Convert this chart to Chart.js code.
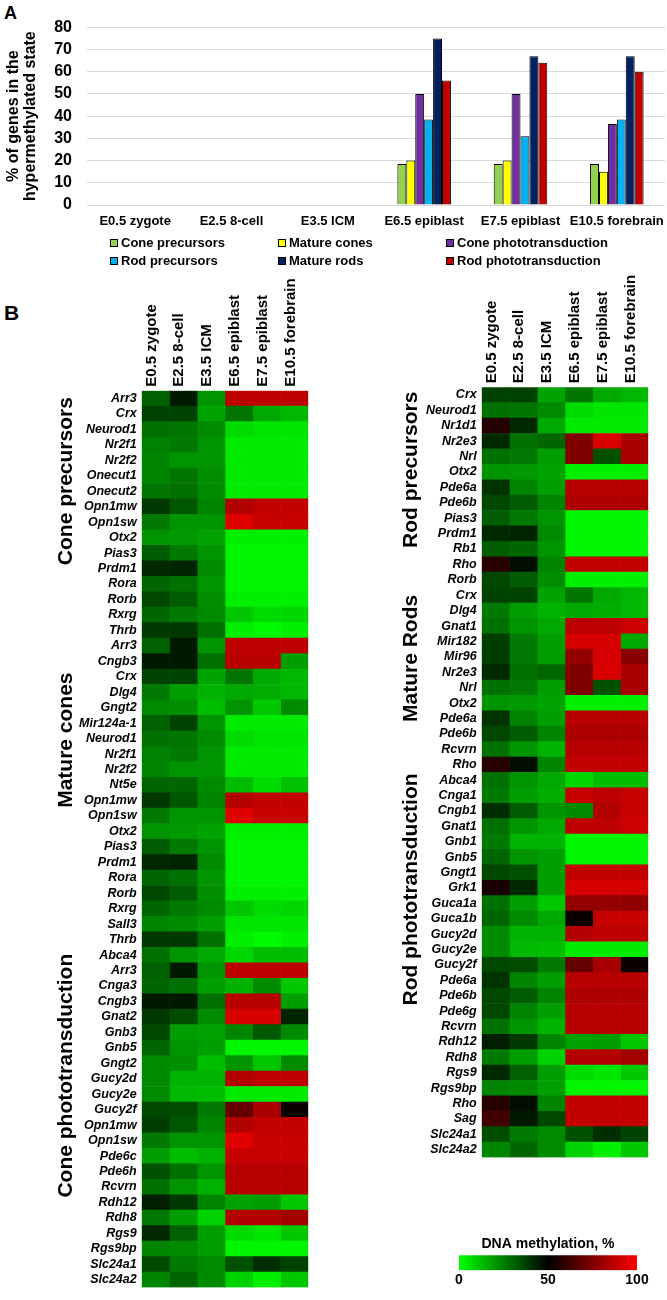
<!DOCTYPE html>
<html>
<head>
<meta charset="utf-8">
<script src="https://cdn.jsdelivr.net/npm/chart.js@4.4.1/dist/chart.umd.min.js"></script>
<style>
  html, body { margin:0; padding:0; background:#fff; }
  body { width:667px; height:1300px; position:relative; overflow:hidden; font-family:"Liberation Sans", Arial, sans-serif; color:#000; }
  .box { position:absolute; }
  .panel { position:absolute; font-weight:bold; }
  .leg-item { position:absolute; font-size:13px; font-weight:bold; line-height:16px; white-space:nowrap; }
  .leg-sw { display:inline-block; width:6px; height:6px; border:1px solid #000; margin-right:3px; vertical-align:0px; }
</style>
</head>
<body>
<div class="panel" style="left:4px; top:3px; font-size:18px;">A</div>
<div class="box" style="left:0; top:0; width:667px; height:240px;"><canvas id="barChart"></canvas></div>
<div id="legend"></div>
<div class="panel" style="left:4px; top:301px; font-size:21px;">B</div>
<div class="box" style="left:0; top:270px; width:330px; height:1030px;"><canvas id="heatLeft"></canvas></div>
<div class="box" style="left:337px; top:270px; width:330px; height:900px;"><canvas id="heatRight"></canvas></div>
<div class="box" style="left:440px; top:1230px; width:227px; height:70px;"><canvas id="colorbar"></canvas></div>
<script>
// ---------- DATA ----------
const stages = ['E0.5 zygote','E2.5 8-cell','E3.5 ICM','E6.5 epiblast','E7.5 epiblast','E10.5 forebrain'];

// Panel A: % of genes in the hypermethylated state
const seriesNames = ['Cone precursors','Mature cones','Cone phototransduction','Rod precursors','Mature rods','Rod phototransduction'];
const conePrecursorsPct = [0,0,0,18.5,18.5,18.5];
const matureConesPct    = [0,0,0,20,20,15];
const conePhotoPct      = [0,0,0,50,50,36.5];
const rodPrecursorsPct  = [0,0,0,38.5,31,38.5];
const matureRodsPct     = [0,0,0,75,67,67];
const rodPhotoPct       = [0,0,0,56,64,60];
const yTicks = [0,10,20,30,40,50,60,70,80];

// Panel B: DNA methylation, % (columns follow `stages`)
const conePrecursorGenes = ['Arr3','Crx','Neurod1','Nr2f1','Nr2f2','Onecut1','Onecut2','Opn1mw','Opn1sw','Otx2','Pias3','Prdm1','Rora','Rorb','Rxrg','Thrb'];
const conePrecursorMeth = [
 [31,45,21,87,87,87],[37,37,18,27,17,14],[28,27,23,7,5,5],[25,26,21,4,4,4],
 [24,21,21,4,4,4],[24,27,22,4,4,4],[27,28,23,4,4,4],[39,33,24,85,88,88],
 [26,21,21,94,89,89],[21,20,18,3,3,3],[32,26,21,2,2,2],[42,43,23,2,2,2],
 [30,28,21,2,2,2],[36,32,22,3,3,3],[30,26,23,11,7,8],[39,39,28,3,1,3]
];
const matureConeGenes = ['Arr3','Cngb3','Crx','Dlg4','Gngt2','Mir124a-1','Neurod1','Nr2f1','Nr2f2','Nt5e','Opn1mw','Opn1sw','Otx2','Pias3','Prdm1','Rora','Rorb','Rxrg','Sall3','Thrb'];
const matureConeMeth = [
 [31,45,21,87,87,87],[45,45,28,86,86,19],[37,37,18,27,17,14],[26,19,15,17,16,14],
 [23,22,13,21,11,23],[31,37,21,4,4,4],[28,27,23,7,5,5],[25,26,21,4,4,4],
 [24,21,21,4,4,4],[30,30,23,13,7,12],[39,33,24,85,88,88],[26,21,21,94,89,89],
 [21,20,18,3,3,3],[32,26,21,2,2,2],[42,43,23,2,2,2],[30,28,21,2,2,2],
 [36,32,22,3,3,3],[30,26,23,11,7,8],[24,23,19,5,5,5],[39,39,28,3,1,3]
];
const conePhotoGenes = ['Abca4','Arr3','Cnga3','Cngb3','Gnat2','Gnb3','Gnb5','Gngt2','Gucy2d','Gucy2e','Gucy2f','Opn1mw','Opn1sw','Pde6c','Pde6h','Rcvrn','Rdh12','Rdh8','Rgs9','Rgs9bp','Slc24a1','Slc24a2'];
const conePhotoMeth = [
 [28,21,17,8,13,13],[31,45,21,87,87,87],[30,28,19,15,23,11],[45,45,28,86,86,19],
 [39,35,23,92,92,43],[36,19,18,24,33,23],[30,21,19,2,2,2],[23,22,13,21,11,23],
 [23,15,15,85,87,87],[23,14,13,4,4,4],[36,35,26,70,83,52],[38,33,24,85,88,88],
 [26,21,21,94,89,89],[19,13,15,89,89,89],[34,28,21,86,86,86],[28,21,15,86,86,86],
 [44,39,24,18,19,11],[26,19,9,85,85,82],[42,31,19,7,5,11],[24,23,19,2,2,2],
 [35,26,23,34,41,37],[24,30,23,9,3,11]
];
const rodPrecursorGenes = ['Crx','Neurod1','Nr1d1','Nr2e3','Nrl','Otx2','Pde6a','Pde6b','Pias3','Prdm1','Rb1','Rho','Rorb'];
const rodPrecursorMeth = [
 [37,37,18,27,17,14],[28,27,23,7,5,5],[57,42,17,4,4,4],[42,28,30,75,93,83],
 [28,26,19,75,34,83],[21,20,18,3,3,3],[40,24,19,86,86,86],[36,32,24,84,84,84],
 [32,26,21,2,2,2],[42,43,23,2,2,2],[32,30,21,2,2,2],[58,47,24,88,88,88],
 [36,32,22,3,3,3]
];
const matureRodGenes = ['Crx','Dlg4','Gnat1','Mir182','Mir96','Nr2e3','Nrl','Otx2','Pde6a','Pde6b','Rcvrn','Rho'];
const matureRodMeth = [
 [37,37,18,27,17,14],[26,19,15,17,16,14],[28,21,17,87,87,90],[38,26,19,92,92,17],
 [38,26,19,79,92,77],[42,28,30,75,93,83],[28,26,19,75,34,83],[21,20,18,3,3,3],
 [40,24,19,86,86,86],[36,32,24,84,84,84],[28,21,15,86,86,86],[58,47,24,88,88,88]
];
const rodPhotoGenes = ['Abca4','Cnga1','Cngb1','Gnat1','Gnb1','Gnb5','Gngt1','Grk1','Guca1a','Guca1b','Gucy2d','Gucy2e','Gucy2f','Pde6a','Pde6b','Pde6g','Rcvrn','Rdh12','Rdh8','Rgs9','Rgs9bp','Rho','Sag','Slc24a1','Slc24a2'];
const rodPhotoMeth = [
 [28,21,17,8,13,13],[26,19,16,89,87,89],[41,32,21,23,85,89],[28,21,17,87,87,90],
 [26,15,15,2,2,2],[30,21,19,2,2,2],[36,34,19,88,88,88],[55,42,19,92,92,92],
 [28,19,11,79,79,78],[30,23,17,52,89,89],[23,15,15,85,87,87],[23,14,13,4,4,4],
 [36,35,26,70,83,52],[40,24,19,86,86,86],[36,32,24,84,84,84],[36,24,19,86,86,86],
 [28,21,15,86,86,86],[44,39,24,18,19,11],[26,19,9,85,85,82],[42,31,19,7,5,11],
 [24,23,19,2,2,2],[58,47,24,88,88,88],[63,45,36,88,88,88],[35,26,23,34,41,37],
 [24,30,23,9,3,11]
];
const colorbarTicks = [0,50,100];

// ---------- STYLE / BUILD ----------
const FONT = '"Liberation Sans", Arial, sans-serif';
Chart.defaults.font.family = FONT;
Chart.defaults.color = '#000';
Chart.defaults.animation = false;

const seriesColors = ['#92D050','#FFFF00','#7030A0','#00B0F0','#002060','#C00000'];
const seriesData = [conePrecursorsPct, matureConesPct, conePhotoPct, rodPrecursorsPct, matureRodsPct, rodPhotoPct];

const barChart = new Chart(document.getElementById('barChart'), {
  type: 'bar',
  data: {
    labels: stages,
    datasets: seriesNames.map((n, i) => ({
      label: n,
      data: seriesData[i],
      backgroundColor: seriesColors[i],
      borderColor: '#000',
      borderWidth: c => (c.raw > 0 ? 1 : 0),
      barPercentage: 1,
      categoryPercentage: 0.556
    }))
  },
  options: {
    responsive: true, maintainAspectRatio: false,
    layout: { padding: { top: 27.3, right: 2, left: 0, bottom: 1.4 } },
    plugins: { legend: { display: false }, tooltip: { enabled: false } },
    scales: {
      x: {
        grid: { display: false, drawTicks: false },
        border: { display: false },
        afterFit: s => { s.paddingRight = 0; s.paddingLeft = 0; },
        ticks: { padding: 9, autoSkip: false, maxRotation: 0, font: { weight: 'bold', size: 13 }, color: '#000' }
      },
      y: {
        min: 0, max: 80,
        afterBuildTicks: s => { s.ticks = yTicks.map(v => ({ value: v })); },
        afterFit: s => { s.width = 87; },
        grid: { color: '#d9d9d9', drawTicks: false },
        border: { display: false },
        ticks: { autoSkip: false, padding: 15, font: { weight: 'bold', size: 16 }, color: '#000' },
        title: {
          display: true,
          text: ['% of genes in the', 'hypermethylated state'],
          font: { weight: 'bold', size: 16, lineHeight: 1.07 },
          color: '#000',
          padding: { top: 5.4, bottom: 0 }
        }
      }
    }
  }
});

// HTML legend built from the chart's datasets (3 columns x 2 rows)
(function buildLegend() {
  const leg = document.getElementById('legend');
  const colX = [110, 278, 446];
  const rowY = [234.7, 253];
  barChart.data.datasets.forEach((ds, i) => {
    const d = document.createElement('div');
    d.className = 'leg-item';
    d.style.left = colX[i % 3] + 'px';
    d.style.top = rowY[Math.floor(i / 3)] + 'px';
    const sw = document.createElement('span');
    sw.className = 'leg-sw';
    sw.style.background = ds.backgroundColor;
    d.appendChild(sw);
    d.appendChild(document.createTextNode(ds.label));
    leg.appendChild(d);
  });
})();

function methColor(v) {
  if (v <= 50) { const g = Math.round(255 * (1 - v / 50)); return `rgb(0,${g},0)`; }
  const r = Math.round(255 * (v - 50) / 50); return `rgb(${r},0,0)`;
}

const groupLabelPlugin = {
  id: 'groupLabels',
  afterDraw(chart, args, opts) {
    if (!opts || !opts.groups) return;
    const { ctx } = chart; const y = chart.scales.y;
    ctx.save();
    ctx.font = `bold ${opts.size}px ${FONT}`;
    ctx.fillStyle = '#000'; ctx.textAlign = 'center'; ctx.textBaseline = 'middle';
    opts.groups.forEach(g => {
      const py = y.getPixelForValue(g.row);
      ctx.save(); ctx.translate(opts.x, py); ctx.rotate(-Math.PI / 2);
      ctx.fillText(g.text, 0, 0); ctx.restore();
    });
    ctx.restore();
  }
};

function heatmap(canvasId, genes, meth, pad, yWidth, xHeight, groupOpts) {
  return new Chart(document.getElementById(canvasId), {
    type: 'bar',
    plugins: [groupLabelPlugin],
    data: {
      labels: genes,
      datasets: stages.map((s, j) => ({
        label: s,
        data: genes.map(() => 1),
        backgroundColor: meth.map(r => methColor(r[j])),
        borderWidth: 0,
        barPercentage: 1,
        categoryPercentage: 1
      }))
    },
    options: {
      indexAxis: 'y',
      responsive: true, maintainAspectRatio: false,
      layout: { padding: pad },
      plugins: { legend: { display: false }, tooltip: { enabled: false }, groupLabels: groupOpts },
      scales: {
        x: {
          type: 'linear', stacked: true, position: 'top', min: 0, max: stages.length,
          grid: { display: false, drawTicks: false }, border: { display: false },
          afterBuildTicks: s => { s.ticks = stages.map((_, i) => ({ value: i + 0.5 })); },
          afterFit: s => { s.height = xHeight; },
          ticks: { autoSkip: false, minRotation: 90, maxRotation: 90, padding: 4, labelOffset: 14,
                   font: { weight: 'bold', size: 15 }, color: '#000',
                   callback: (v, i) => stages[i] }
        },
        y: {
          stacked: true,
          grid: { display: false, drawTicks: false }, border: { display: false },
          afterFit: s => { s.width = yWidth; },
          ticks: { autoSkip: false, padding: 5, font: { weight: 'bold', style: 'italic', size: 12.5 }, color: '#000' }
        }
      }
    }
  });
}

heatmap('heatLeft',
  [...conePrecursorGenes, ...matureConeGenes, ...conePhotoGenes],
  [...conePrecursorMeth, ...matureConeMeth, ...conePhotoMeth],
  { left: 0, right: 21.7, top: 0, bottom: 3.3 }, 141.7, 120.7,
  { x: 66, size: 21, groups: [
    { text: 'Cone precursors', row: 5.35 },
    { text: 'Mature cones', row: 22.1 },
    { text: 'Cone phototransduction', row: 43.8 } ] });

heatmap('heatRight',
  [...rodPrecursorGenes, ...matureRodGenes, ...rodPhotoGenes],
  [...rodPrecursorMeth, ...matureRodMeth, ...rodPhotoMeth],
  { left: 0, right: 18.7, top: 0, bottom: 2.7 }, 144.7, 117.3,
  { x: 74, size: 21, groups: [
    { text: 'Rod precursors', row: 4.85 },
    { text: 'Mature Rods', row: 17.1 },
    { text: 'Rod phototransduction', row: 32.1 } ] });

// Colour scale
new Chart(document.getElementById('colorbar'), {
  type: 'bar',
  data: {
    labels: [''],
    datasets: [{
      data: [[colorbarTicks[0], colorbarTicks[colorbarTicks.length - 1]]],
      borderWidth: 0, barPercentage: 1, categoryPercentage: 1,
      backgroundColor: c => {
        const a = c.chart.chartArea; if (!a) return '#000';
        const g = c.chart.ctx.createLinearGradient(a.left, 0, a.right, 0);
        g.addColorStop(0, methColor(0)); g.addColorStop(0.5, methColor(50)); g.addColorStop(1, methColor(100));
        return g;
      }
    }]
  },
  options: {
    indexAxis: 'y', responsive: true, maintainAspectRatio: false,
    layout: { padding: { left: 19, right: 30, top: 0, bottom: 9 } },
    plugins: {
      legend: { display: false }, tooltip: { enabled: false },
      title: { display: true, text: 'DNA methylation, %', font: { weight: 'bold', size: 14 }, color: '#000', padding: { top: 6, bottom: 2.5 } }
    },
    scales: {
      x: { type: 'linear', min: 0, max: 100,
           afterBuildTicks: s => { s.ticks = colorbarTicks.map(v => ({ value: v })); },
           grid: { display: false, drawTicks: false }, border: { display: false },
           ticks: { padding: 2, font: { weight: 'bold', size: 14 }, color: '#000' } },
      y: { display: false }
    }
  }
});
</script>
</body>
</html>
